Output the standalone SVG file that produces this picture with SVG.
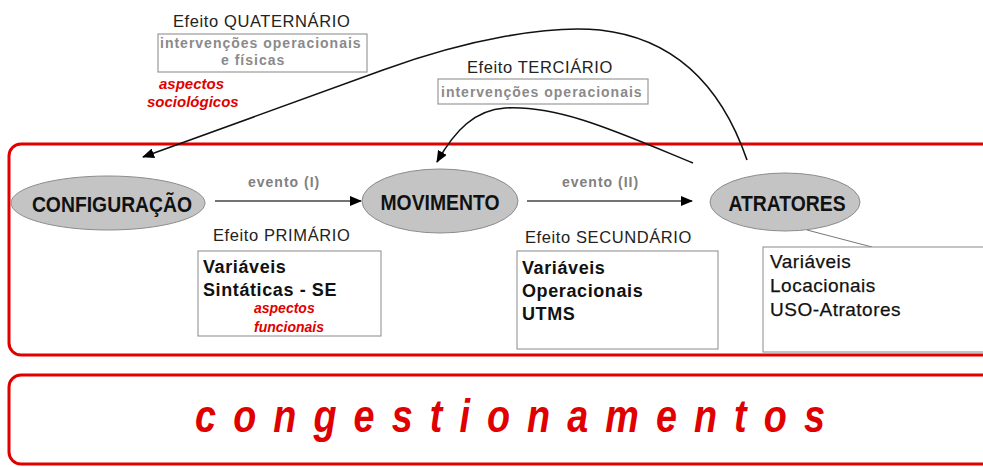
<svg xmlns="http://www.w3.org/2000/svg" width="983" height="467" viewBox="0 0 983 467">
<defs>
<style>
.frame{fill:none;stroke:#e00000;stroke-width:3}
.ell{fill:#c4c4c4;stroke:#8c8c8c;stroke-width:1}
.elabel{font-family:"Liberation Sans",Arial,sans-serif;font-weight:bold;font-size:22px;fill:#111;text-anchor:middle}
.title{font-family:"Liberation Sans",Arial,sans-serif;font-size:16.5px;fill:#222;letter-spacing:0.6px}
.box{fill:#fff;stroke:#8a8a8a;stroke-width:1}
.gbox{fill:#fff;stroke:#9a9a9a;stroke-width:1.2}
.gtxt{font-family:"Liberation Sans",Arial,sans-serif;font-weight:bold;font-size:14px;fill:#8a8a8a;letter-spacing:1px}
.var{font-family:"Liberation Sans",Arial,sans-serif;font-weight:bold;font-size:18px;fill:#111;letter-spacing:0.6px}
.var2{font-family:"Liberation Sans",Arial,sans-serif;font-size:19px;fill:#111;letter-spacing:0.5px;stroke:#111;stroke-width:0.25}
.red{font-family:"Liberation Sans",Arial,sans-serif;font-weight:bold;font-style:italic;fill:#e00000}
.ev{font-family:"Liberation Sans",Arial,sans-serif;font-weight:bold;font-size:14px;fill:#808080;letter-spacing:1px}
.conn{fill:none;stroke:#111;stroke-width:1.6}
.evline{fill:none;stroke:#444;stroke-width:1.6}
</style>
<marker id="ah" viewBox="0 0 12 10" refX="11" refY="5" markerWidth="12" markerHeight="10" markerUnits="userSpaceOnUse" orient="auto">
<path d="M0,0 L12,5 L0,10 z" fill="#000"/>
</marker>
</defs>
<rect width="983" height="467" fill="#fff"/>

<g id="frame-main"><rect class="frame" x="9" y="144" width="995" height="211" rx="12"/></g>
<g id="frame-congest">
<rect class="frame" x="9" y="375" width="995" height="89" rx="12"/>
<g transform="translate(510,0) scale(0.82,1)">
<text x="0" y="432" text-anchor="middle" textLength="768" lengthAdjust="spacing" class="red" font-size="46">congestionamentos</text>
</g>
</g>

<g id="connectors">
<path class="conn" d="M747,160 C728,105 690,40 600,30 C550,25 470,38.5 383,70 L143,157" marker-end="url(#ah)"/>
<path class="conn" d="M693,163 C620,133 560,105 505,108 C475,110 455,130 437,162" marker-end="url(#ah)"/>
<path class="evline" d="M215,201 L361,201" marker-end="url(#ah)"/>
<path class="evline" d="M527,201 L692,201" marker-end="url(#ah)"/>
<path d="M807,230 L872,247" fill="none" stroke="#777" stroke-width="1"/>
<text class="ev" x="248" y="187">evento (I)</text>
<text class="ev" x="562" y="187">evento (II)</text>
</g>

<g id="quaternario">
<text class="title" x="173" y="27">Efeito QUATERNÁRIO</text>
<rect class="gbox" x="158" y="34" width="209" height="38"/>
<text class="gtxt" x="160" y="48">intervenções operacionais</text>
<text class="gtxt" x="221" y="65">e físicas</text>
<text class="red" font-size="15" x="159" y="89">aspectos</text>
<text class="red" font-size="15" x="147" y="107">sociológicos</text>
</g>

<g id="terciario">
<text class="title" x="467" y="73">Efeito TERCIÁRIO</text>
<rect class="gbox" x="438" y="79" width="210" height="25"/>
<text class="gtxt" x="441" y="97">intervenções operacionais</text>
</g>

<g id="configuracao">
<ellipse class="ell" cx="108" cy="203" rx="97" ry="27"/>
<text class="elabel" transform="translate(112,0) scale(0.88,1)" x="0" y="212">CONFIGURAÇÃO</text>
</g>
<g id="movimento">
<ellipse class="ell" cx="440" cy="201" rx="78" ry="32"/>
<text class="elabel" transform="translate(440,0) scale(0.88,1)" x="0" y="210">MOVIMENTO</text>
</g>
<g id="atratores">
<ellipse class="ell" cx="785" cy="202" rx="75" ry="29"/>
<text class="elabel" transform="translate(787,0) scale(0.88,1)" x="0" y="211">ATRATORES</text>
</g>

<g id="primario">
<text class="title" x="213" y="241">Efeito PRIMÁRIO</text>
<rect class="box" x="198" y="251" width="183" height="85"/>
<text class="var" x="203" y="273">Variáveis</text>
<text class="var" x="203" y="296">Sintáticas - SE</text>
<text class="red" font-size="14" x="254" y="313">aspectos</text>
<text class="red" font-size="14" x="254" y="332">funcionais</text>
</g>

<g id="secundario">
<text class="title" x="525" y="243">Efeito SECUNDÁRIO</text>
<rect class="box" x="517" y="251" width="201" height="98"/>
<text class="var" x="522" y="274">Variáveis</text>
<text class="var" x="522" y="297">Operacionais</text>
<text class="var" x="522" y="320">UTMS</text>
</g>

<g id="locacionais">
<rect class="box" x="763" y="247" width="240" height="105"/>
<text class="var2" x="770" y="268">Variáveis</text>
<text class="var2" x="770" y="292">Locacionais</text>
<text class="var2" x="770" y="316">USO-Atratores</text>
</g>
</svg>
